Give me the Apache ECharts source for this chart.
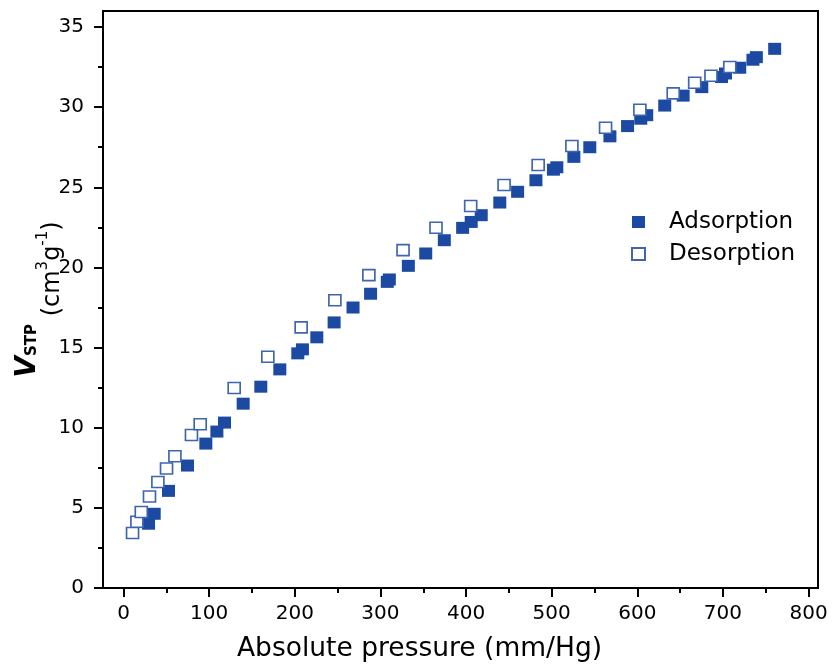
<!DOCTYPE html>
<html>
<head>
<meta charset="utf-8">
<script src="https://cdn.jsdelivr.net/npm/echarts@6/dist/echarts.min.js"></script>
<style>
html,body{margin:0;padding:0;background:#fff;}
#chart{width:833px;height:665px;}
</style>
</head>
<body>
<div id="chart"></div>
<script>
// Adsorption branch
const adsP = [29.2, 35.8, 52.5, 74.7, 96.1, 109, 117.9, 139.7, 160.3, 182.5, 203.5, 208.9, 225.7, 245.9, 268, 288.5, 308, 310.4, 332.6, 352.9, 374.6, 396, 406, 417.7, 439.4, 460.2, 481.6, 502, 506, 525.9, 544.5, 568, 588.6, 604, 611, 632, 653.5, 675.3, 698.3, 703, 719.6, 735, 739, 760.4];
const adsV = [4.01, 4.63, 6.06, 7.64, 9.01, 9.76, 10.32, 11.5, 12.56, 13.64, 14.64, 14.89, 15.64, 16.57, 17.5, 18.36, 19.1, 19.25, 20.1, 20.87, 21.7, 22.47, 22.84, 23.26, 24.05, 24.72, 25.44, 26.1, 26.25, 26.9, 27.5, 28.18, 28.82, 29.28, 29.5, 30.1, 30.72, 31.25, 31.88, 32.1, 32.46, 32.96, 33.12, 33.64];
// Desorption branch
const desP = [10.5, 15.6, 20.7, 30.3, 40.1, 50.2, 60, 79.3, 89.5, 129.2, 168.5, 207.4, 246.8, 286.5, 326.4, 364.9, 405.4, 444.4, 484.2, 523.6, 562.9, 603, 641.9, 667, 686, 708];
const desV = [3.43, 4.13, 4.74, 5.71, 6.62, 7.45, 8.22, 9.55, 10.22, 12.48, 14.43, 16.26, 17.95, 19.52, 21.08, 22.47, 23.84, 25.15, 26.39, 27.58, 28.72, 29.84, 30.86, 31.53, 31.96, 32.5];
// Tick values
const xMajorTicks = [0, 100, 200, 300, 400, 500, 600, 700, 800];
const xMinorTicks = [50, 150, 250, 350, 450, 550, 650, 750];
const yMajorTicks = [0, 5, 10, 15, 20, 25, 30, 35];
const yMinorTicks = [2.5, 7.5, 12.5, 17.5, 22.5, 27.5, 32.5];
const seriesNames = ['Adsorption', 'Desorption'];

const FONT = 'DejaVu Sans';
const xRange = {min: -24, max: 811};
const yRange = {min: 0, max: 36};

const chart = echarts.init(document.getElementById('chart'), null, {renderer: 'canvas'});
const zip = (a, b) => a.map((v, i) => [v, b[i]]);

chart.setOption({
  backgroundColor: '#fff',
  animation: false,
  textStyle: {fontFamily: FONT, color: '#000'},
  grid: {left: 103, right: 15, top: 11, bottom: 77, containLabel: false, outerBoundsMode: 'none', show: true, borderColor: '#000', borderWidth: 2, backgroundColor: 'transparent'},
  legend: {
    orient: 'vertical',
    left: 631,
    top: 209,
    padding: 0,
    itemWidth: 13,
    itemHeight: 12,
    itemGap: 6,
    data: seriesNames,
    textStyle: {fontFamily: FONT, fontSize: 23, color: '#000', lineHeight: 26, padding: [0, 0, 0, 19]}
  },
  xAxis: [{
    type: 'value', min: xRange.min, max: xRange.max,
    name: 'Absolute pressure (mm/Hg)',
    nameLocation: 'middle', nameGap: 48, nameMoveOverlap: false,
    nameTextStyle: {fontFamily: FONT, fontSize: 26.5, color: '#000', padding: [0, 82, 0, 0]},
    axisLine: {show: true, onZero: false, lineStyle: {color: '#000', width: 2}},
    axisTick: {show: true, inside: false, length: 9, lineStyle: {color: '#000', width: 2}, customValues: xMajorTicks},
    axisLabel: {show: true, margin: 16, fontFamily: FONT, fontSize: 20, color: '#000', customValues: xMajorTicks},
    splitLine: {show: false}
  }, {
    type: 'value', min: xRange.min, max: xRange.max, position: 'bottom',
    axisLine: {show: false, onZero: false},
    axisTick: {show: true, inside: false, length: 5, lineStyle: {color: '#000', width: 2}, customValues: xMinorTicks},
    axisLabel: {show: false},
    splitLine: {show: false}
  }],
  yAxis: [{
    type: 'value', min: yRange.min, max: yRange.max,
    name: '{v|V}{s|STP}{t| (cm}{sup|3}{t|g}{sup|-1}{t|)}',
    nameLocation: 'middle', nameGap: 61, nameMoveOverlap: false,
    nameTextStyle: {
      fontFamily: FONT, color: '#000',
      rich: {
        v: {fontFamily: FONT, fontSize: 28, fontWeight: 'bold', fontStyle: 'italic', lineHeight: 28, verticalAlign: 'top', color: '#000'},
        s: {fontFamily: FONT, fontSize: 15, fontWeight: 'bold', lineHeight: 15, verticalAlign: 'top', padding: [11, 0, 0, 0], color: '#000'},
        t: {fontFamily: FONT, fontSize: 24, lineHeight: 24, verticalAlign: 'top', padding: [27, 0, 0, 0], color: '#000'},
        sup: {fontFamily: FONT, fontSize: 15, lineHeight: 15, verticalAlign: 'top', padding: [22, 0, 0, 0], color: '#000'}
      }
    },
    axisLine: {show: true, onZero: false, lineStyle: {color: '#000', width: 2}},
    axisTick: {show: true, inside: false, length: 9, lineStyle: {color: '#000', width: 2}, customValues: yMajorTicks},
    axisLabel: {show: true, margin: 19, fontFamily: FONT, fontSize: 20, color: '#000', customValues: yMajorTicks},
    splitLine: {show: false}
  }, {
    type: 'value', min: yRange.min, max: yRange.max, position: 'left',
    axisLine: {show: false, onZero: false},
    axisTick: {show: true, inside: false, length: 5, lineStyle: {color: '#000', width: 2}, customValues: yMinorTicks},
    axisLabel: {show: false},
    splitLine: {show: false}
  }],
  series: [{
    name: seriesNames[0],
    type: 'scatter',
    xAxisIndex: 0, yAxisIndex: 0,
    symbol: 'rect',
    symbolSize: [13, 12],
    itemStyle: {color: '#1c4aa3', opacity: 1},
    data: zip(adsP, adsV)
  }, {
    name: seriesNames[1],
    type: 'scatter',
    xAxisIndex: 0, yAxisIndex: 0,
    symbol: 'rect',
    symbolSize: [12, 11],
    itemStyle: {color: '#ffffff', borderColor: '#4065b0', borderWidth: 1.6, opacity: 1},
    data: zip(desP, desV)
  }]
});
</script>
</body>
</html>
